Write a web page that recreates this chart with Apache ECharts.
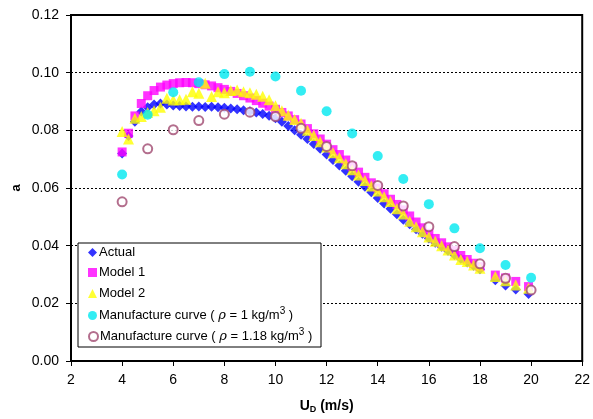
<!DOCTYPE html>
<html><head><meta charset="utf-8">
<script src="https://cdn.jsdelivr.net/npm/echarts@6/dist/echarts.min.js"></script>
<style>html,body{margin:0;padding:0;background:#fff}#c{width:593px;height:419px}</style>
</head><body><div id="c"></div>
<script>
const denseX = [4.0,4.25,4.5,4.75,5.0,5.25,5.5,5.75,6.0,6.25,6.5,6.75,7.0,7.25,7.5,7.75,8.0,8.25,8.5,8.75,9.0,9.25,9.5,9.75,10.0,10.25,10.5,10.75,11.0,11.25,11.5,11.75,12.0,12.25,12.5,12.75,13.0,13.25,13.5,13.75,14.0,14.25,14.5,14.75,15.0,15.25,15.5,15.75,16.0,16.25,16.5,16.75,17.0,17.25,17.5,17.75,18.0,18.6,19.0,19.4,19.9];
const actualY = [0.0720,0.0780,0.0830,0.0865,0.0880,0.0890,0.0893,0.0890,0.0886,0.0884,0.0883,0.0882,0.0883,0.0881,0.0882,0.0880,0.0878,0.0876,0.0873,0.0870,0.0866,0.0862,0.0857,0.0851,0.0842,0.0830,0.0815,0.0800,0.0785,0.0770,0.0753,0.0736,0.0716,0.0697,0.0678,0.0660,0.0641,0.0622,0.0604,0.0585,0.0565,0.0546,0.0528,0.0509,0.0490,0.0474,0.0457,0.0441,0.0425,0.0410,0.0396,0.0382,0.0368,0.0355,0.0342,0.0330,0.0318,0.0280,0.0262,0.0248,0.0232];
const model1Y = [0.0725,0.0790,0.0850,0.0893,0.0920,0.0938,0.0950,0.0957,0.0962,0.0965,0.0966,0.0965,0.0962,0.0958,0.0954,0.0948,0.0942,0.0935,0.0928,0.0920,0.0912,0.0903,0.0894,0.0884,0.0873,0.0862,0.0850,0.0837,0.0822,0.0806,0.0788,0.0770,0.0752,0.0733,0.0716,0.0697,0.0675,0.0655,0.0637,0.0618,0.0600,0.0580,0.0561,0.0543,0.0524,0.0503,0.0482,0.0462,0.0443,0.0425,0.0410,0.0396,0.0383,0.0366,0.0352,0.0339,0.0327,0.0298,0.0288,0.0276,0.0258];
const model2Y = [0.0796,0.0770,0.0842,0.0848,0.0862,0.0868,0.0880,0.0911,0.0905,0.0906,0.0908,0.0934,0.0929,0.0963,0.0917,0.0934,0.0930,0.0938,0.0940,0.0934,0.0930,0.0925,0.0918,0.0906,0.0885,0.0868,0.0852,0.0838,0.0825,0.0800,0.0782,0.0760,0.0742,0.0722,0.0705,0.0684,0.0663,0.0645,0.0626,0.0607,0.0590,0.0570,0.0553,0.0528,0.0510,0.0485,0.0466,0.0448,0.0430,0.0415,0.0400,0.0385,0.0368,0.0352,0.0345,0.0333,0.0322,0.0293,0.0278,0.0264,0.0252];
const mfgX = [4,5,6,7,8,9,10,11,12,13,14,15,16,17,18,19,20];
const mfg1Y = [0.0647,0.0854,0.0932,0.0967,0.0995,0.1003,0.0987,0.0937,0.0866,0.0789,0.0711,0.0631,0.0544,0.0460,0.0391,0.0333,0.0289];
const mfg118Y = [0.0552,0.0736,0.0802,0.0834,0.0856,0.0863,0.0848,0.0807,0.0744,0.0677,0.0609,0.0538,0.0466,0.0397,0.0337,0.0287,0.0246];
const seriesNames = ['Actual','Model 1','Model 2','Manufacture curve (rho=1)','Manufacture curve (rho=1.18)'];
const legendLabels = ['Actual','Model 1','Model 2','Manufacture curve ( {r|ρ} = 1 kg/m{s|3} )','Manufacture curve ( {r|ρ} = 1.18 kg/m{s|3} )'];

const zip = (xs, ys) => xs.map((x, i) => [x, ys[i]]);
const chart = echarts.init(document.getElementById('c'), null, {renderer: 'canvas'});
const FONT = 'Liberation Sans, Arial, sans-serif';
const icons = ['diamond','rect','triangle','circle','emptyCircle'];
const colors = ['#0000FF','#FF00FF','#FFFF00','#00E8F0','#A04A70'];
const legendTops = [246, 266, 287, 306, 327];
const legends = seriesNames.map((n, i) => ({
  data: [{name: n, icon: icons[i], itemStyle: i === 4 ? {borderWidth: 1} : undefined}],
  left: 88, top: legendTops[i], z: 12,
  itemWidth: 9, itemHeight: 9, itemGap: 2,
  padding: 0,
  selectedMode: false,
  formatter: () => legendLabels[i],
  textStyle: {fontFamily: FONT, fontSize: 13, color: '#000', padding: [0,0,0,-3],
    rich: {r: {fontFamily: 'DejaVu Serif', fontStyle: 'italic', fontSize: 13, color: '#000'},
           s: {fontSize: 10, color: '#000', verticalAlign: 'top', padding: [0,0,9,0]}}}
}));
const option = {
  animation: false,
  backgroundColor: '#fff',
  grid: {left: 71, right: 8, top: 15, bottom: 58, show: true, borderColor: '#000', borderWidth: 2, backgroundColor: 'transparent'},
  legend: legends,
  graphic: [{type: 'rect', z: 10, shape: {x: 78, y: 243, width: 243, height: 104},
    style: {fill: '#fff', stroke: '#000', lineWidth: 1}}],
  xAxis: {
    type: 'value', min: 2, max: 22, interval: 2,
    name: '{u|U}{d|D}{u| (m/s)}', nameLocation: 'middle', nameGap: 38,
    nameTextStyle: {rich: {u: {fontFamily: FONT, fontWeight: 'bold', fontSize: 14, color: '#000'},
                           d: {fontFamily: FONT, fontWeight: 'bold', fontSize: 9, color: '#000', verticalAlign: 'bottom', padding: [6,0,0,0]}}},
    axisLine: {lineStyle: {color: '#000', width: 2}},
    axisTick: {inside: false, length: 5, lineStyle: {color: '#000', width: 1}},
    axisLabel: {fontFamily: FONT, fontSize: 14, color: '#000', margin: 12},
    splitLine: {show: false}
  },
  yAxis: {
    type: 'value', min: 0, max: 0.12, interval: 0.02,
    name: 'a', nameLocation: 'middle', nameGap: 48, nameRotate: 90, nameMoveOverlap: false,
    nameTextStyle: {fontFamily: FONT, fontWeight: 'bold', fontSize: 13, color: '#000'},
    axisLine: {lineStyle: {color: '#000', width: 2}},
    axisTick: {inside: false, length: 5, lineStyle: {color: '#000', width: 1}},
    axisLabel: {fontFamily: FONT, fontSize: 14, color: '#000', margin: 12, formatter: v => v.toFixed(2)},
    splitLine: {show: true, lineStyle: {color: '#000', width: 1, type: [2, 2]}}
  },
  series: [
    {name: seriesNames[0], type: 'scatter', data: zip(denseX, actualY), symbol: 'diamond', symbolSize: 10, itemStyle: {color: colors[0]}, z: 2},
    {name: seriesNames[1], type: 'scatter', data: zip(denseX, model1Y), symbol: 'rect', symbolSize: 9, itemStyle: {color: colors[1]}, z: 3},
    {name: seriesNames[2], type: 'scatter', data: zip(denseX, model2Y), symbol: 'triangle', symbolSize: 11, itemStyle: {color: colors[2]}, z: 4},
    {name: seriesNames[3], type: 'scatter', data: zip(mfgX, mfg1Y), symbol: 'circle', symbolSize: 10, itemStyle: {color: colors[3]}, z: 5},
    {name: seriesNames[4], type: 'scatter', data: zip(mfgX, mfg118Y), symbol: 'emptyCircle', symbolSize: 9, itemStyle: {color: colors[4], borderWidth: 1}, z: 6}
  ]
};
chart.setOption(option);
</script></body></html>
